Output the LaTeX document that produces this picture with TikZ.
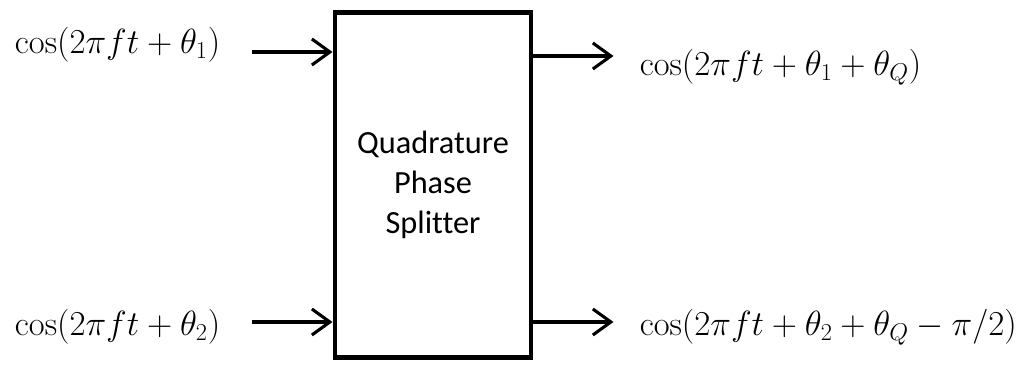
\documentclass[tikz,border=0pt]{standalone}
\usepackage{fontspec}
\newfontfamily\boxfont[Ligatures=NoCommon]{Carlito}
\usetikzlibrary{arrows.meta}
\usetikzlibrary{positioning}
\tikzset{
  sig/.style={font=\fontsize{24.5}{28}\selectfont, inner sep=0pt},
  flow/.style={-{Straight Barb[length=4.5mm,width=6.5mm]}, line width=2.2pt}
}

\begin{document}
\begin{tikzpicture}[x=0.025cm, y=-0.025cm]
  \useasboundingbox (0,0) rectangle (1028,365);

  \node[draw, line width=3.2pt, minimum width=4.91cm, minimum height=8.63cm,
        align=center, font=\boxfont\fontsize{23}{28.5}\selectfont] (splitter)
        at (433,185) {Quadrature\\Phase\\Splitter};

  \coordinate (in1)  at (splitter.west |- 0,52);
  \coordinate (in2)  at (splitter.west |- 0,322);
  \coordinate (out1) at (splitter.east |- 0,56);
  \coordinate (out2) at (splitter.east |- 0,322);

  \node[sig, left=2.8cm of in1, yshift=0.175cm]  (cos1) {$\cos(2\pi ft+\theta_1)$};
  \node[sig, left=2.8cm of in2, yshift=-0.125cm] (cos2) {$\cos(2\pi ft+\theta_2)$};
  \node[sig, right=2.65cm of out1, yshift=-0.28cm] (sum1) {$\cos(2\pi ft+\theta_1+\theta_Q)$};
  \node[sig, right=2.65cm of out2, yshift=-0.125cm] (sum2) {$\cos(2\pi ft+\theta_2+\theta_Q-\pi/2)$};

  \draw[flow, shorten <=0.78cm] (cos1.east |- in1) -- (in1);
  \draw[flow, shorten <=0.78cm] (cos2.east |- in2) -- (in2);
  \draw[flow, shorten >=0.65cm] (out1) -- (sum1.west |- out1);
  \draw[flow, shorten >=0.65cm] (out2) -- (sum2.west |- out2);
\end{tikzpicture}
\end{document}
